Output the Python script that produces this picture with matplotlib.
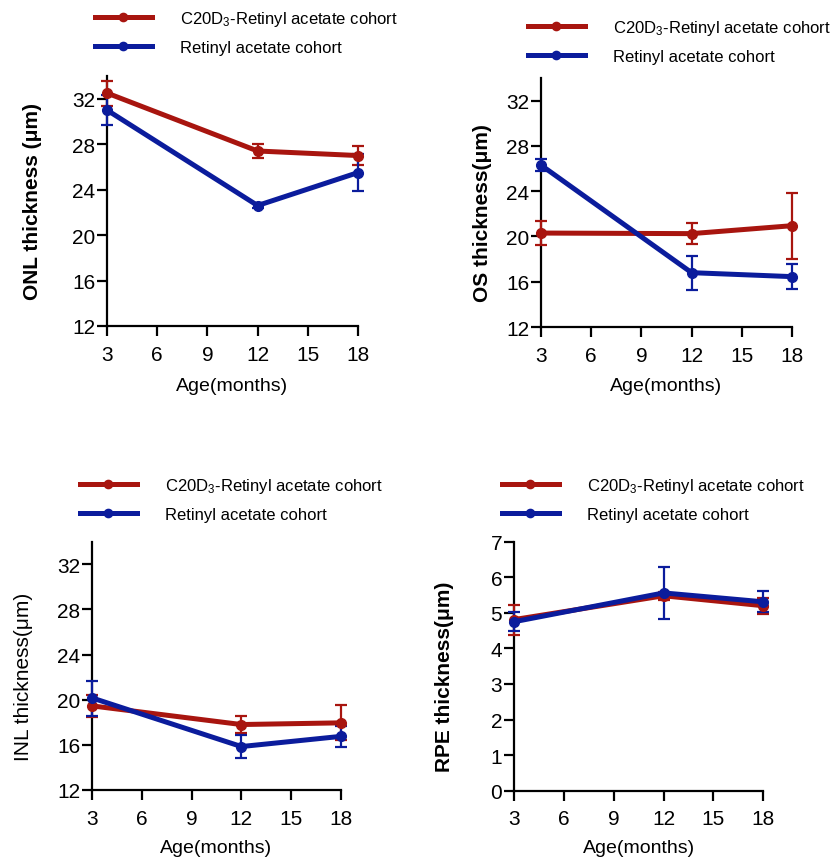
import matplotlib
matplotlib.use("Agg")
import matplotlib.pyplot as plt

plt.rcParams['font.family'] = ['Liberation Sans', 'DejaVu Sans']
plt.rcParams['mathtext.fontset'] = 'custom'
plt.rcParams['mathtext.rm'] = 'Liberation Sans'
plt.rcParams['mathtext.it'] = 'Liberation Sans:italic'

# ---- data ----
ages = [3, 12, 18]
xticks = [3, 6, 9, 12, 15, 18]
series_labels = ["C20D$_3$-Retinyl acetate cohort", "Retinyl acetate cohort"]

onl_c20 = [32.5, 27.4, 27.0]
onl_c20_err = [1.1, 0.65, 0.8]
onl_ra = [31.0, 22.6, 25.5]
onl_ra_err = [1.35, 0.2, 1.65]

os_c20 = [20.3, 20.25, 20.95]
os_c20_err = [1.05, 0.9, 2.9]
os_ra = [26.3, 16.8, 16.45]
os_ra_err = [0.5, 1.5, 1.1]

inl_c20 = [19.45, 17.8, 17.95]
inl_c20_err = [1.0, 0.75, 1.55]
inl_ra = [20.15, 15.85, 16.75]
inl_ra_err = [1.55, 1.0, 0.95]

rpe_c20 = [4.81, 5.48, 5.2]
rpe_c20_err = [0.42, 0.12, 0.23]
rpe_ra = [4.75, 5.56, 5.31]
rpe_ra_err = [0.26, 0.73, 0.3]

thick_ticks = [12, 16, 20, 24, 28, 32]
rpe_ticks = [0, 1, 2, 3, 4, 5, 6, 7]

RED = "#A8150F"
BLUE = "#0B1C9C"

W, H = 830, 862
fig = plt.figure(figsize=(W / 100, H / 100), dpi=100)


def px_axes(left, right, top, bottom):
    return fig.add_axes([left / W, (H - bottom) / H, (right - left) / W, (bottom - top) / H])


panels = [
    dict(box=(107, 358, 77, 327), c20=onl_c20, c20e=onl_c20_err, ra=onl_ra, rae=onl_ra_err,
         ylabel="ONL thickness (μm)", bold=True, ylim=(12, 34), yt=thick_ticks,
         ylc=(-0.295, 0.502), xly=-0.24, leg=(95, 10)),
    dict(box=(541, 792, 79, 328), c20=os_c20, c20e=os_c20_err, ra=os_ra, rae=os_ra_err,
         ylabel="OS thickness(μm)", bold=True, ylim=(12, 34), yt=thick_ticks,
         ylc=(-0.235, 0.46), xly=-0.236, leg=(528, 19)),
    dict(box=(92.3, 340.7, 542.7, 791), c20=inl_c20, c20e=inl_c20_err, ra=inl_ra, rae=inl_ra_err,
         ylabel="INL thickness(μm)", bold=False, ylim=(12, 34), yt=thick_ticks,
         ylc=(-0.278, 0.461), xly=-0.231, leg=(80, 477)),
    dict(box=(514, 763.3, 542.7, 791.7), c20=rpe_c20, c20e=rpe_c20_err, ra=rpe_ra, rae=rpe_ra_err,
         ylabel="RPE thickness(μm)", bold=True, ylim=(0, 7), yt=rpe_ticks,
         ylc=(-0.277, 0.462), xly=-0.227, leg=(502, 477)),
]

for p in panels:
    ax = px_axes(*p["box"])
    handles = []
    for vals, errs, col, lab in [(p["c20"], p["c20e"], RED, series_labels[0]),
                                 (p["ra"], p["rae"], BLUE, series_labels[1])]:
        ax.errorbar(ages, vals, yerr=errs, fmt='none', ecolor=col, elinewidth=1.6,
                    capsize=4.3, capthick=1.6, clip_on=False, zorder=3)
        ln, = ax.plot(ages, vals, color=col, lw=3.6, marker='o', markersize=7,
                      clip_on=False, zorder=4, label=lab)
        handles.append(ln)

    ax.set_xlim(3, 18)
    ax.set_ylim(*p["ylim"])
    ax.set_xticks(xticks)
    ax.set_yticks(p["yt"])
    for s in ["top", "right"]:
        ax.spines[s].set_visible(False)
    for s in ["left", "bottom"]:
        ax.spines[s].set_linewidth(1.6)
    ax.tick_params(axis='both', direction='out', length=7, width=1.6, labelsize=15)
    ax.tick_params(axis='x', pad=6.5)
    ax.tick_params(axis='y', pad=1.5)

    ax.set_xlabel("Age(months)", fontsize=14)
    ax.xaxis.label.set_va('center')
    ax.xaxis.set_label_coords(0.5, p["xly"])
    ax.set_ylabel(p["ylabel"], fontsize=15,
                  fontweight='bold' if p["bold"] else 'normal')
    ax.yaxis.label.set_va('center')
    ax.yaxis.set_label_coords(*p["ylc"])

    lx, ly = p["leg"]
    fig.legend(handles=handles, loc='upper left',
               bbox_to_anchor=(lx / W, (H - ly) / H), frameon=False,
               borderpad=0, borderaxespad=0, handlelength=3.4, handletextpad=1.72,
               labelspacing=0.72, numpoints=1, markerscale=0.85,
               prop={'family': ['Liberation Sans', 'DejaVu Sans'], 'size': 12})

fig.savefig("out.png", dpi=100)
